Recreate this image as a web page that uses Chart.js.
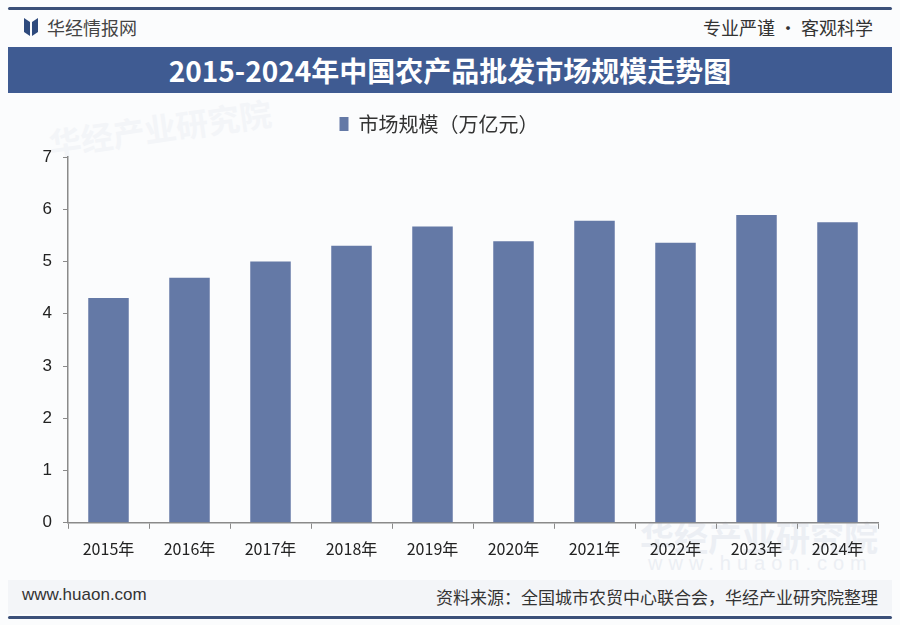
<!DOCTYPE html>
<html lang="zh">
<head>
    <meta charset="UTF-8">
    <title>2015-2024年中国农产品批发市场规模走势图</title>
    <script src="https://cdn.jsdelivr.net/npm/chart.js"></script>
    <style>
        body {
            margin: 0;
            width: 900px;
            height: 625px;
            background: #fbfcfd;
            font-family: 'Noto Sans CJK SC', 'Noto Sans', sans-serif;
            color: #333;
            position: relative;
            overflow: hidden;
        }
        .line {
            position: absolute;
            left: 8px;
            width: 884px;
            height: 3px;
            background: #3b5079;
            border-radius: 2px;
        }
        .brand {
            position: absolute;
            left: 24px;
            top: 14px;
            font-size: 18px;
            color: #444;
            display: flex;
            align-items: center;
        }
        .brand svg { margin-right: 9px; }
        .motto {
            position: absolute;
            right: 27px;
            top: 14px;
            font-size: 18px;
            color: #333;
        }
        .title {
            position: absolute;
            left: 8px;
            top: 47px;
            width: 884px;
            height: 46px;
            background: #3f5b92;
            color: #fff;
            font-size: 28px;
            font-weight: bold;
            line-height: 46px;
            text-align: center;
        }
        .wm {
            position: absolute;
            font-weight: bold;
        }
        .footer {
            position: absolute;
            left: 8px;
            top: 580px;
            width: 884px;
            height: 34px;
            background: #f3f5f8;
        }
        .site {
            position: absolute;
            left: 22px;
            top: 585px;
            font-family: 'Liberation Sans', Arial, sans-serif;
            font-size: 17px;
            color: #333;
        }
        .source {
            position: absolute;
            right: 22px;
            top: 584px;
            font-size: 17px;
            color: #333;
        }
        #chartWrap {
            position: absolute;
            left: 0;
            top: 100px;
            width: 900px;
            height: 470px;
        }
    </style>
</head>
<body>
    <div class="line" style="top:7px"></div>
    <div class="brand">
        <svg width="14" height="18" viewBox="0 0 14 18">
            <path d="M0 0 L6 4 L6 18 L0 14 Z" fill="#2e4a7d"/>
            <path d="M14 0 L8 4 L8 18 L14 14 Z" fill="#2e4a7d"/>
        </svg>
        华经情报网
    </div>
    <div class="motto">专业严谨 • 客观科学</div>
    <div class="title">2015-2024年中国农产品批发市场规模走势图</div>

    <div class="wm" style="left:48px; top:104px; font-size:32px; transform:rotate(-8deg); color:#f3f5f8">华经产业研究院</div>
    <div class="wm" style="left:640px; top:512px; font-size:34px; color:#eceff4">华经产业研究院</div>
    <div class="wm" style="left:648px; top:552px; font-size:20px; letter-spacing:6px; font-weight:normal; color:#eceff4; font-family:'Liberation Sans', sans-serif">www.huaon.com</div>

    <div id="chartWrap"><canvas id="chart"></canvas></div>

    <div class="footer"></div>
    <div class="site">www.huaon.com</div>
    <div class="source">资料来源：全国城市农贸中心联合会，华经产业研究院整理</div>
    <div class="line" style="top:616px"></div>

    <script>
        const years = ['2015年', '2016年', '2017年', '2018年', '2019年', '2020年', '2021年', '2022年', '2023年', '2024年'];
        const marketSize = [4.30, 4.69, 5.00, 5.30, 5.67, 5.39, 5.78, 5.36, 5.89, 5.75];
        const seriesName = '市场规模（万亿元）';
        const barColor = '#6479a6';
        const axisColor = '#8a8a8a';

        // extra space between legend and plot area
        const legendGap = {
            id: 'legendGap',
            beforeInit(chart) {
                const fitOrig = chart.legend.fit;
                chart.legend.fit = function () {
                    fitOrig.bind(chart.legend)();
                    this.height += 13;
                };
            }
        };

        new Chart(document.getElementById('chart'), {
            type: 'bar',
            data: {
                labels: years,
                datasets: [{
                    label: seriesName,
                    data: marketSize,
                    backgroundColor: barColor,
                    barPercentage: 0.5,
                    categoryPercentage: 1.0
                }]
            },
            plugins: [legendGap],
            options: {
                responsive: true,
                maintainAspectRatio: false,
                animation: false,
                layout: {
                    padding: { left: 0, right: 22, top: 2, bottom: 0 }
                },
                plugins: {
                    legend: {
                        position: 'top',
                        labels: {
                            color: '#333',
                            font: { family: "'Noto Sans CJK SC', sans-serif", size: 20 },
                            boxWidth: 9,
                            boxHeight: 14,
                            padding: 12
                        }
                    },
                    tooltip: { enabled: false }
                },
                scales: {
                    x: {
                        offset: true,
                        grid: {
                            offset: true,
                            drawOnChartArea: false,
                            tickLength: 6,
                            color: axisColor
                        },
                        border: { color: axisColor, width: 1.5 },
                        ticks: {
                            color: '#222',
                            font: { family: "'Noto Sans CJK SC', sans-serif", size: 16 },
                            padding: 11
                        }
                    },
                    y: {
                        min: 0,
                        max: 7,
                        afterFit: (scale) => { scale.width = 68; },
                        grid: {
                            drawOnChartArea: false,
                            tickLength: 5,
                            color: axisColor
                        },
                        border: { color: axisColor, width: 1.5 },
                        ticks: {
                            stepSize: 1,
                            color: '#222',
                            font: { family: "'Liberation Sans', sans-serif", size: 17 },
                            padding: 11
                        }
                    }
                }
            }
        });
    </script>
</body>
</html>
